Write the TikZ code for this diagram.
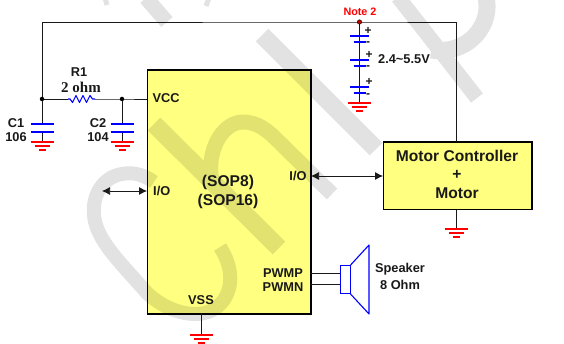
\documentclass[tikz,border=0pt]{standalone}
\usepackage{fontspec}
\setmainfont{Liberation Sans}
\newfontfamily\serifb{Liberation Serif}
\usetikzlibrary{arrows.meta,calc}
\definecolor{chipy}{RGB}{255,255,128}
\definecolor{pblue}{RGB}{0,0,255}
\definecolor{pred}{RGB}{255,0,0}
\definecolor{ink}{RGB}{25,25,25}
\newcommand{\txt}[1]{\fontsize{#1}{#1}\selectfont\bfseries}
\tikzset{
  wire/.style={draw=ink,line width=.75pt},
  bluewire/.style={draw=pblue,line width=1.1pt},
  redwire/.style={draw=pred,line width=1.1pt},
  chipbox/.style={draw=black,line width=1pt,fill=chipy,inner sep=0pt},
  lab/.style={inner sep=0pt,font=\txt{12.8},text=ink},
  sgn/.style={inner sep=0pt,font=\txt{12},text=ink},
  big/.style={inner sep=0pt,font=\txt{15.6},text=ink},
  wm/.style={draw=black,line cap=butt,line join=round},
  dotn/.style={circle,fill=black,inner sep=0pt,minimum size=4.5pt},
  biglink/.style={wire,{Latex[length=8pt,width=8pt]}-{Latex[length=8pt,width=8pt]}}
}
\newcommand{\gndsym}[2]{%
  \draw[redwire] (#1-11.5,#2)--(#1+11.5,#2);
  \draw[redwire] (#1-7.5,#2+4)--(#1+7.5,#2+4);
  \draw[redwire,line width=1.3pt] (#1-3.5,#2+8)--(#1+3.5,#2+8);
}
\begin{document}
\begin{tikzpicture}[x=1pt,y=-1pt]
\useasboundingbox (0,0) rectangle (564,344);
% boxes
\node[chipbox,minimum width=163pt,minimum height=243pt,anchor=north west] (chip) at (147,70) {};
\node[chipbox,minimum width=148pt,minimum height=67pt,anchor=north west] (mc) at (383,142) {};
% watermark
\begin{scope}[transparency group,opacity=.115]
  \draw[wm,line width=15pt] (146,-2) -- (167,22);
  \draw[wm,line width=5pt] (105,-2) -- (107,5);
  \draw[wm,line width=5pt] (209,-2) -- (206,6);
  \draw[wm,line width=18pt] (262,35) -- (376,149);
  \draw[wm,line width=18pt] (154,124) -- (279,248);
  \draw[wm,line width=15pt] (211,176) .. controls (208,145) and (225,122) .. (243,122)
     .. controls (255,122) and (264,128) .. (272,135) -- (332,194);
  \draw[wm,line width=14pt] (154,182) .. controls (143,174) and (132,172) .. (122,174)
     .. controls (103,177) and (92,195) .. (94,215)
     .. controls (96,240) and (120,262) .. (147,293)
     .. controls (165,310) and (190,318) .. (208,312)
     .. controls (228,305) and (240,278) .. (220,247);
  \draw[wm,line width=15pt] (398,-3) -- (477,98);
  \draw[wm,line width=17pt] (486,-3) .. controls (490,15) and (482,32) .. (468,42)
     .. controls (458,49) and (445,52) .. (431,50);
\end{scope}
% redraw outlines
\draw[black,line width=1pt] (chip.north west) rectangle (chip.south east);
\draw[black,line width=1pt] (mc.north west) rectangle (mc.south east);
% junctions
\coordinate (tl) at (42,22);
\coordinate (tr) at (456,22);
\coordinate (r1a) at (68,99);
\coordinate (r1b) at (95,99);
\coordinate (ca) at (42,124);
\coordinate (cb) at (42,132);
\coordinate (cg) at (42,142);
\coordinate (da) at (122,124);
\coordinate (db) at (122,132);
\coordinate (dg) at (122,142);
\coordinate (bg) at (359.5,103);
\coordinate (g1) at (201,335);
\coordinate (g2) at (456,229);
\coordinate (lfree) at (102,191);
% wires
\draw[wire] (42,99) -- (tl) -- (359.5,22) -- (tr) -- (mc.north -| tr);
\draw[wire] (42,99) -- (r1a);
\draw[wire] (r1b) -- (122,99) -- (147,99);
\draw[wire] (42,99) -- (ca) (cb) -- (cg);
\draw[wire] (122,99) -- (da) (db) -- (dg);
\draw[wire] (359.5,22) -- (bg);
\draw[wire] (201,313) -- (g1);
\draw[wire] (mc.south -| g2) -- (g2);
\draw[wire] (310,273) -- (340,273);
\draw[wire] (310,284) -- (340,284);
\node[dotn] (j1) at (42,99) {};
\node[dotn] (j2) at (122,99) {};
\node[circle,fill=pred!75!black,draw=black,line width=.4pt,inner sep=0pt,minimum size=4.5pt] (note) at (359.5,22) {};
% resistor
\draw[bluewire,line join=round] (r1a) -- ++(2,0) -- ++(2.5,3.5) -- ++(3.5,-7) -- ++(3.5,7) -- ++(3.5,-7) -- ++(3.5,7) -- ++(3.5,-7) -- ++(2.5,3.5) -- (r1b);
% capacitors
\draw[bluewire] (30.5,124) -- (53.5,124);
\draw[bluewire] (30.5,132) -- (53.5,132);
\draw[bluewire] (110.5,124) -- (133.5,124);
\draw[bluewire] (110.5,132) -- (133.5,132);
% battery
\draw[bluewire] (350,36) -- (369,36);
\draw[bluewire] (353.5,42) -- (365.5,42);
\draw[bluewire] (350,60) -- (369,60);
\draw[bluewire] (353.5,66) -- (365.5,66);
\draw[bluewire] (350,87) -- (369,87);
\draw[bluewire] (353.5,93) -- (365.5,93);
% grounds
\gndsym{42}{142}
\gndsym{122}{142}
\gndsym{359.5}{103}
\gndsym{201}{335}
\gndsym{456}{229}
\node[sgn] (p1) at (368,31) {+};
\node[sgn] (m1) at (368,44) {-};
\node[sgn] (p2) at (369,55) {+};
\node[sgn] (m2) at (368,68) {-};
\node[sgn] (p3) at (369,82) {+};
\node[sgn] (m3) at (368,95.5) {-};
% arrows
\draw[biglink] (lfree) -- (lfree -| chip.west);
\draw[biglink] (311,176) -- (383,176);
% speaker
\node[draw=pblue,line width=1.1pt,minimum width=9.5pt,minimum height=28pt,inner sep=0pt,anchor=north west] (spk) at (340,265) {};
\draw[bluewire,line join=round] (spk.north east) -- (369,245) -- (369,314) -- (spk.south east);
% labels
\node[lab] (t1) at (79,72) {R1};
\node[inner sep=0pt,font=\serifb\txt{15},text=ink] (t2) at (81,87) {2 ohm};
\node[lab] (t3) at (16,123) {C1};
\node[lab] (t4) at (16,137) {106};
\node[lab] (t5) at (98,123) {C2};
\node[lab] (t6) at (98,137) {104};
\node[lab,anchor=west] (t7) at (152.5,98.5) {VCC};
\node[lab,anchor=west] (t8) at (153,191) {I/O};
\node[lab] (t9) at (298,176) {I/O};
\node[big] (t10) at (228,182) {(SOP8)};
\node[big] (t11) at (228,201) {(SOP16)};
\node[lab] (t12) at (283,273) {PWMP};
\node[lab] (t13) at (283,287) {PWMN};
\node[lab] (t14) at (201,300) {VSS};
\node[lab] (t15) at (400,269.5) {Speaker};
\node[lab] (t16) at (400,285) {8 Ohm};
\node[lab] (t17) at (404,59) {2.4\textasciitilde 5.5V};
\node[inner sep=0pt,font=\txt{10.8},text=pred] (t18) at (360,11.5) {Note 2};
\node[big] (t19) at (457,156) {Motor Controller};
\node[big] (t20) at (457,174.5) {+};
\node[big] (t21) at (457,193.5) {Motor};
\end{tikzpicture}
\end{document}
